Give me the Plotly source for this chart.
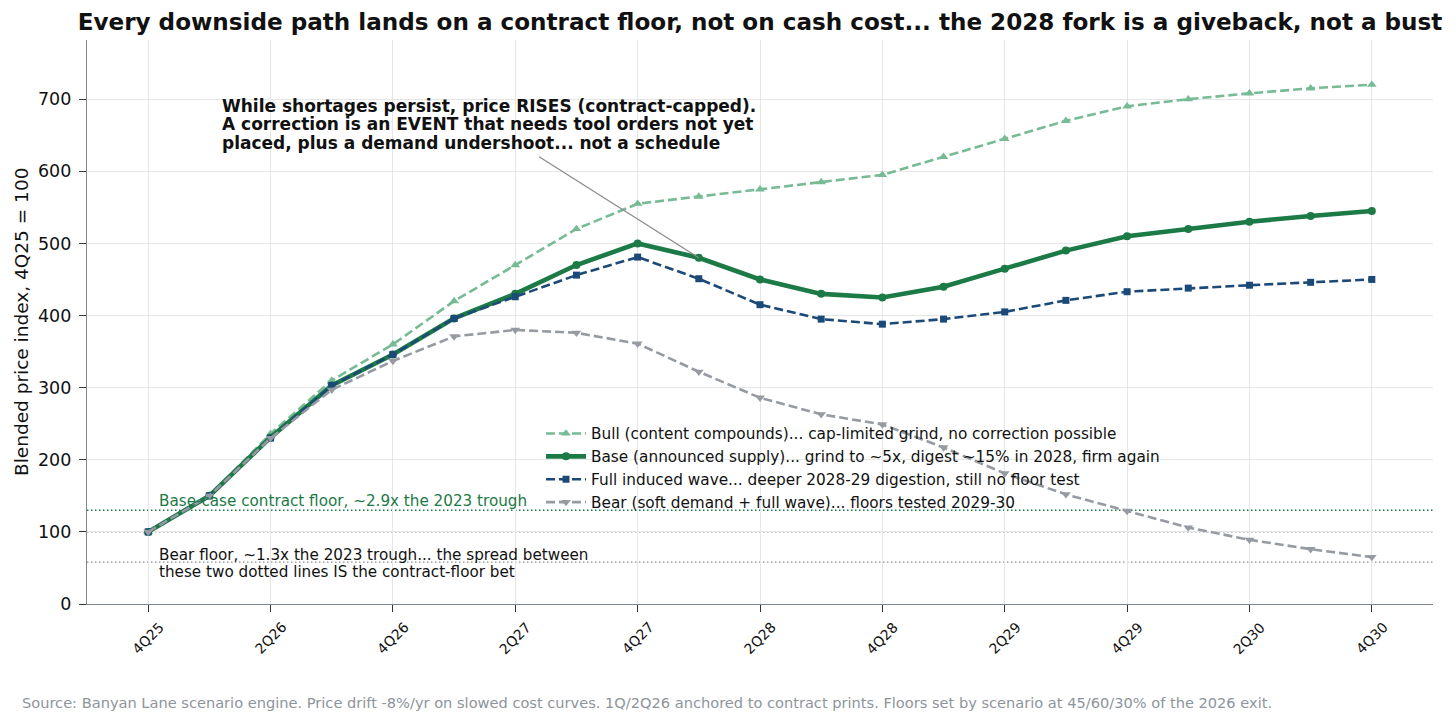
import numpy as np
import plotly.graph_objects as go

quarters = ["4Q25", "1Q26", "2Q26", "3Q26", "4Q26", "1Q27", "2Q27", "3Q27", "4Q27",
            "1Q28", "2Q28", "3Q28", "4Q28", "1Q29", "2Q29", "3Q29", "4Q29",
            "1Q30", "2Q30", "3Q30", "4Q30"]

bull = [100, 150, 236, 310, 360, 420, 470, 520, 555, 565, 575, 585, 595, 620, 645, 670, 690, 700, 708, 715, 720]
base = [100, 150, 231, 303, 346, 396, 430, 470, 500, 480, 450, 430, 425, 440, 465, 490, 510, 520, 530, 538, 545]
full_wave = [100, 150, 230, 303, 346, 396, 426, 456, 481, 451, 415, 395, 388, 395, 405, 421, 433, 438, 442, 446, 450]
bear = [100, 150, 230, 297, 337, 371, 380, 376, 361, 322, 286, 263, 249, 217, 181, 152, 129, 106, 89, 76, 65]

series_names = [
    "Bull (content compounds)... cap-limited grind, no correction possible",
    "Base (announced supply)... grind to ~5x, digest ~15% in 2028, firm again",
    "Full induced wave... deeper 2028-29 digestion, still no floor test",
    "Bear (soft demand + full wave)... floors tested 2029-30",
]

base_floor = 130
reference_level = 100
bear_floor = 58

tick_labels = quarters[::2]
y_ticks = [0, 100, 200, 300, 400, 500, 600, 700]

callout_lines = [
    "While shortages persist, price RISES (contract-capped).",
    "A correction is an EVENT that needs tool orders not yet",
    "placed, plus a demand undershoot... not a schedule",
]
bear_floor_lines = [
    "Bear floor, ~1.3x the 2023 trough... the spread between",
    "these two dotted lines IS the contract-floor bet",
]

x = np.arange(len(quarters))
tick_pos = x[::2]

W, H = 1456, 722
ML, MR, MT, MB = 87, 23, 40, 118
PW, PH = W - ML - MR, H - MT - MB
YMAX = 782


def py(pix_y):
    """paper y from page pixel y"""
    return (H - MB - pix_y) / PH


def px(pix_x):
    return (pix_x - ML) / PW


fig = go.Figure()

styles = [
    (bull, "#76bb94", 2.6, "9px,4px", "triangle-up", 8.5),
    (base, "#1b7a45", 4.6, "solid", "circle", 8),
    (full_wave, "#1c4a78", 2.6, "9px,4px", "square", 7),
    (bear, "#969ba2", 2.6, "9px,4px", "triangle-down", 8.5),
]

for (vals, color, lw, dash, sym, ms), name in zip(styles, series_names):
    fig.add_trace(go.Scatter(
        x=x, y=vals, name=name, mode="lines+markers",
        line=dict(color=color, width=lw, dash=dash),
        marker=dict(symbol=sym, size=ms, color=color),
        hoverinfo="skip",
    ))

# floor lines
for lvl, col in [(base_floor, "#1b7a45"), (reference_level, "#8a8f96"), (bear_floor, "#8a8f96")]:
    fig.add_shape(type="line", xref="paper", x0=0, x1=1, yref="y", y0=lvl, y1=lvl,
                  line=dict(color=col, width=1.3, dash="1.5px,2.5px"), layer="below")

fig.add_annotation(x=px(157), y=py(501), xref="paper", yref="paper", xanchor="left", yanchor="middle",
                   text="Base-case contract floor, ~2.9x the 2023 trough", showarrow=False,
                   font=dict(family="DejaVu Sans", size=15.2, color="#1b7a45"))
for i, line in enumerate(bear_floor_lines):
    fig.add_annotation(x=px(157), y=py(555 + 17 * i), xref="paper", yref="paper",
                       xanchor="left", yanchor="middle", text=line, showarrow=False,
                       font=dict(family="DejaVu Sans", size=15.2, color="#111111"))

# callout
fig.add_shape(type="line", xref="x", yref="y", x0=6.39, y0=620, x1=x[9], y1=base[9],
              line=dict(color="#8a8a8a", width=1.2))
for i, line in enumerate(callout_lines):
    fig.add_annotation(x=px(220), y=py(106 + 18.5 * i), xref="paper", yref="paper",
                       xanchor="left", yanchor="middle", text="<b>" + line + "</b>", showarrow=False,
                       font=dict(family="DejaVu Sans", size=17, color="#111111"))

# x tick labels, rotated and centred on their ticks
for pos, lab in zip(tick_pos, tick_labels):
    fig.add_annotation(x=pos, y=0, xref="x", yref="paper", yshift=-34, text=lab, textangle=-45,
                       xanchor="center", yanchor="middle", showarrow=False,
                       font=dict(family="DejaVu Sans", size=14, color="#111111"))

# y axis title
fig.add_annotation(x=px(21), y=0.5, xref="paper", yref="paper", text="Blended price index, 4Q25 = 100",
                   textangle=-90, xanchor="center", yanchor="middle", showarrow=False,
                   font=dict(family="DejaVu Sans", size=18.5, color="#111111"))

# source
fig.add_annotation(x=px(20), y=py(702), xref="paper", yref="paper", xanchor="left", yanchor="middle",
                   showarrow=False,
                   text="Source: Banyan Lane scenario engine. Price drift -8%/yr on slowed cost curves. 1Q/2Q26 anchored to contract prints. Floors set by scenario at 45/60/30% of the 2026 exit.",
                   font=dict(family="DejaVu Sans", size=14.6, color="#8e949b"))

fig.update_layout(
    width=W, height=H,
    margin=dict(l=ML, r=MR, t=MT, b=MB),
    paper_bgcolor="white", plot_bgcolor="white",
    font=dict(family="DejaVu Sans", color="#111111"),
    title=dict(text="<b>Every downside path lands on a contract floor, not on cash cost... the 2028 fork is a giveback, not a bust</b>",
               x=0.5, xref="paper", xanchor="center", y=1 - 22 / H, yanchor="middle",
               font=dict(family="DejaVu Sans", size=23.1, color="#111111")),
    showlegend=True,
    legend=dict(x=px(541), y=py(417), xanchor="left", yanchor="top", bgcolor="rgba(0,0,0,0)",
                font=dict(family="DejaVu Sans", size=15.3, color="#111111"), itemwidth=40,
                tracegroupgap=0),
    xaxis=dict(range=[-1, len(quarters)], tickmode="array", tickvals=tick_pos, ticktext=tick_labels,
               showticklabels=False, showgrid=True, gridcolor="#e6e6e6", gridwidth=1,
               zeroline=False, showline=True, linecolor="#7f868c", linewidth=1.2,
               ticks="outside", ticklen=7, tickcolor="#333333"),
    yaxis=dict(range=[0, YMAX], tickmode="array", tickvals=y_ticks,
               tickfont=dict(size=17.5), showgrid=True, gridcolor="#e6e6e6", gridwidth=1,
               zeroline=False, showline=True, linecolor="#7f868c", linewidth=1.2,
               ticks="outside", ticklen=7, tickcolor="#333333", ticklabelstandoff=4),
)

fig.write_html("out.html")
